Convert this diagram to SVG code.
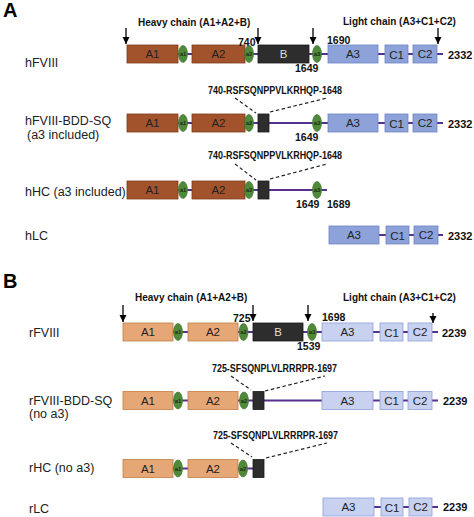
<svg xmlns="http://www.w3.org/2000/svg" width="474" height="517" viewBox="0 0 474 517">
<style>
text{font-family:"Liberation Sans",Arial,sans-serif}
.pl{font-size:20px;font-weight:bold;fill:#000}
.lab{font-size:12.5px;fill:#222}
.hd{font-size:10px;font-weight:bold;fill:#111}
.seq{font-size:10px;font-weight:bold;fill:#111}
.num{font-size:10.5px;font-weight:bold;fill:#111}
.end{font-size:11px;font-weight:bold;fill:#111}
.dt{font-size:11.5px;text-anchor:middle;fill:#222}
.dtw{font-size:11.5px;text-anchor:middle;fill:#ddd}
.et{font-size:6px;font-weight:bold;text-anchor:middle;fill:#1d2e12}
.br{fill:#A3532B;stroke:#7A3C1C;stroke-width:0.8}
.or{fill:#E6A776;stroke:#C27D47;stroke-width:0.8}
.ba{fill:#8EA2DA;stroke:#6E83C2;stroke-width:0.8}
.bb{fill:#C8D2F0;stroke:#8C9ED8;stroke-width:0.8}
.bk{fill:#2D2D2D;stroke:#1a1a1a;stroke-width:0.8}
.gr{fill:#4F8A3B;stroke:#3A6A2B;stroke-width:0.6}
.ln{stroke:#55308F;stroke-width:2;fill:none}
.ds{stroke:#222;stroke-width:1.2;stroke-dasharray:3.5,2.5;fill:none}
.ar{stroke:#000;stroke-width:1.3;fill:none;marker-end:url(#ah)}
</style>
<defs>
<marker id="ah" markerUnits="userSpaceOnUse" markerWidth="8" markerHeight="8" refX="7" refY="4" orient="auto">
<path d="M0,0.5 L7,4 L0,7.5 z" fill="#000"/>
</marker>
</defs>

<text class="pl" x="3" y="17">A</text>
<text class="pl" x="3" y="288">B</text>

<text class="hd" x="138" y="26">Heavy chain  (A1+A2+B)</text>
<text class="hd" x="343" y="25">Light chain  (A3+C1+C2)</text>
<text class="hd" x="135" y="301">Heavy chain  (A1+A2+B)</text>
<text class="hd" x="343" y="301">Light chain  (A3+C1+C2)</text>

<text class="lab" x="25" y="67">hFVIII</text>
<text class="lab" x="25" y="125">hFVIII-BDD-SQ</text>
<text class="lab" x="27" y="139">(a3 included)</text>
<text class="lab" x="25" y="196">hHC (a3 included)</text>
<text class="lab" x="25" y="240">hLC</text>
<text class="lab" x="29" y="337">rFVIII</text>
<text class="lab" x="29" y="405">rFVIII-BDD-SQ</text>
<text class="lab" x="29" y="418">(no a3)</text>
<text class="lab" x="29" y="472">rHC (no a3)</text>
<text class="lab" x="29" y="513">rLC</text>

<g id="connectors">
<line class="ln" x1="178" y1="54" x2="443" y2="54"/>
<line class="ln" x1="178" y1="123" x2="443" y2="123"/>
<line class="ln" x1="178" y1="190" x2="327" y2="190"/>
<line class="ln" x1="378" y1="235" x2="443" y2="235"/>
<line class="ln" x1="173" y1="332" x2="438" y2="332"/>
<line class="ln" x1="173" y1="400.5" x2="438" y2="400.5"/>
<line class="ln" x1="173" y1="468.5" x2="264" y2="468.5"/>
<line class="ln" x1="374" y1="507" x2="438" y2="507"/>
<line class="ar" x1="126" y1="28" x2="126" y2="44"/>
<line class="ar" x1="258" y1="28" x2="258" y2="44"/>
<line class="ar" x1="313" y1="28" x2="313" y2="44"/>
<line class="ar" x1="438" y1="28" x2="438" y2="44"/>
<line class="ar" x1="123" y1="305" x2="123" y2="322"/>
<line class="ar" x1="253" y1="305" x2="253" y2="321"/>
<line class="ar" x1="308" y1="305" x2="308" y2="321"/>
<line class="ar" x1="433" y1="313" x2="433" y2="323"/>
<line class="ds" x1="235" y1="98" x2="256" y2="113"/>
<line class="ds" x1="270" y1="112" x2="327" y2="98"/>
<line class="ds" x1="235" y1="164" x2="256" y2="180"/>
<line class="ds" x1="270" y1="179" x2="327" y2="164"/>
<line class="ds" x1="231" y1="376" x2="251" y2="390"/>
<line class="ds" x1="265" y1="391" x2="325" y2="376"/>
<line class="ds" x1="231" y1="443" x2="252" y2="457"/>
<line class="ds" x1="266" y1="458" x2="327" y2="443"/>
</g>

<!-- Row hFVIII -->
<g id="hfviii">
<g id="hfviii-A1"><rect class="br" x="127" y="45" width="51" height="18"/><text class="dt" x="152.5" y="58">A1</text></g>
<g id="hfviii-a1"><ellipse class="gr" cx="183" cy="54" rx="4.5" ry="8.5"/><text class="et" x="183" y="56">a1</text></g>
<g id="hfviii-A2"><rect class="br" x="192" y="45" width="53" height="18"/><text class="dt" x="218.5" y="58">A2</text></g>
<g id="hfviii-a2"><ellipse class="gr" cx="249" cy="54" rx="4.5" ry="8.5"/><text class="et" x="249" y="56">a2</text></g>
<g id="hfviii-B"><rect class="bk" x="258" y="45" width="51" height="18"/><text class="dtw" x="283.5" y="58">B</text></g>
<g id="hfviii-a3"><ellipse class="gr" cx="317" cy="54" rx="4.5" ry="8.5"/><text class="et" x="317" y="56">a3</text></g>
<g id="hfviii-A3"><rect class="ba" x="328" y="45" width="50" height="18"/><text class="dt" x="353" y="58">A3</text></g>
<g id="hfviii-C1"><rect class="ba" x="385" y="45" width="23" height="18"/><text class="dt" x="396.5" y="58.5">C1</text></g>
<g id="hfviii-C2"><rect class="ba" x="413" y="45" width="24" height="18"/><text class="dt" x="425" y="58">C2</text></g>
<text class="num" x="238" y="46">740</text>
<text class="num" x="327" y="44">1690</text>
<text class="num" x="295" y="72">1649</text>
<text class="end" x="448" y="58.5">2332</text>
</g>

<!-- Row hFVIII-BDD-SQ -->
<g id="hbdd">
<text class="seq" x="208" y="94" textLength="134" lengthAdjust="spacingAndGlyphs">740-RSFSQNPPVLKRHQP-1648</text>
<g id="hbdd-A1"><rect class="br" x="127" y="114" width="51" height="18"/><text class="dt" x="152.5" y="127">A1</text></g>
<g id="hbdd-a1"><ellipse class="gr" cx="183" cy="123" rx="4.5" ry="8.5"/><text class="et" x="183" y="125">a1</text></g>
<g id="hbdd-A2"><rect class="br" x="192" y="114" width="53" height="18"/><text class="dt" x="218.5" y="127">A2</text></g>
<g id="hbdd-a2"><ellipse class="gr" cx="249" cy="123" rx="4.5" ry="8.5"/><text class="et" x="249" y="125">a2</text></g>
<g id="hbdd-B"><rect class="bk" x="258" y="114" width="11" height="18"/></g>
<g id="hbdd-a3"><ellipse class="gr" cx="317" cy="123" rx="4.5" ry="8.5"/><text class="et" x="317" y="125">a3</text></g>
<g id="hbdd-A3"><rect class="ba" x="328" y="114" width="50" height="18"/><text class="dt" x="353" y="127">A3</text></g>
<g id="hbdd-C1"><rect class="ba" x="385" y="114" width="23" height="18"/><text class="dt" x="396.5" y="127.5">C1</text></g>
<g id="hbdd-C2"><rect class="ba" x="413" y="114" width="24" height="18"/><text class="dt" x="425" y="127">C2</text></g>
<text class="num" x="295" y="141">1649</text>
<text class="end" x="448" y="127.5">2332</text>
</g>

<!-- Row hHC -->
<g id="hhc">
<text class="seq" x="208" y="159" textLength="134" lengthAdjust="spacingAndGlyphs">740-RSFSQNPPVLKRHQP-1648</text>
<g id="hhc-A1"><rect class="br" x="127" y="181" width="51" height="18"/><text class="dt" x="152.5" y="194">A1</text></g>
<g id="hhc-a1"><ellipse class="gr" cx="183" cy="190" rx="4.5" ry="8.5"/><text class="et" x="183" y="192">a1</text></g>
<g id="hhc-A2"><rect class="br" x="192" y="181" width="53" height="18"/><text class="dt" x="218.5" y="194">A2</text></g>
<g id="hhc-a2"><ellipse class="gr" cx="249" cy="190" rx="4.5" ry="8.5"/><text class="et" x="249" y="192">a2</text></g>
<g id="hhc-B"><rect class="bk" x="258" y="181" width="11" height="18"/></g>
<g id="hhc-a3"><ellipse class="gr" cx="317" cy="190" rx="4.5" ry="8.5"/><text class="et" x="317" y="192">a3</text></g>
<text class="num" x="296" y="208">1649</text>
<text class="num" x="327" y="208">1689</text>
</g>

<!-- Row hLC -->
<g id="hlc">
<g id="hlc-A3"><rect class="ba" x="329" y="226" width="50" height="18"/><text class="dt" x="354" y="239">A3</text></g>
<g id="hlc-C1"><rect class="ba" x="386" y="226" width="23" height="18"/><text class="dt" x="397.5" y="239.5">C1</text></g>
<g id="hlc-C2"><rect class="ba" x="414" y="226" width="24" height="18"/><text class="dt" x="426" y="239">C2</text></g>
<text class="end" x="448" y="239.5">2332</text>
</g>

<!-- Row rFVIII -->
<g id="rfviii">
<g id="rfviii-A1"><rect class="or" x="123" y="323" width="50" height="18"/><text class="dt" x="148" y="336">A1</text></g>
<g id="rfviii-a1"><ellipse class="gr" cx="178" cy="332" rx="4.5" ry="8.5"/><text class="et" x="178" y="334">a1</text></g>
<g id="rfviii-A2"><rect class="or" x="188" y="323" width="50" height="18"/><text class="dt" x="213" y="336">A2</text></g>
<g id="rfviii-a2"><ellipse class="gr" cx="243.5" cy="332" rx="4.5" ry="8.5"/><text class="et" x="243.5" y="334">a2</text></g>
<g id="rfviii-B"><rect class="bk" x="253" y="323" width="50" height="18"/><text class="dtw" x="278" y="336">B</text></g>
<g id="rfviii-a3"><ellipse class="gr" cx="312" cy="332" rx="4.5" ry="8.5"/><text class="et" x="312" y="334">a3</text></g>
<g id="rfviii-A3"><rect class="bb" x="322" y="323" width="51" height="18"/><text class="dt" x="347.5" y="336">A3</text></g>
<g id="rfviii-C1"><rect class="bb" x="380" y="323" width="23" height="18"/><text class="dt" x="391.5" y="336.5">C1</text></g>
<g id="rfviii-C2"><rect class="bb" x="408" y="323" width="24" height="18"/><text class="dt" x="420" y="336">C2</text></g>
<text class="num" x="233" y="322">725</text>
<text class="num" x="322" y="321">1698</text>
<text class="num" x="297" y="350">1539</text>
<text class="end" x="442" y="337">2239</text>
</g>

<!-- Row rFVIII-BDD-SQ -->
<g id="rbdd">
<text class="seq" x="212" y="372" textLength="125" lengthAdjust="spacingAndGlyphs">725-SFSQNPLVLRRRPR-1697</text>
<g id="rbdd-A1"><rect class="or" x="123" y="391.5" width="50" height="18"/><text class="dt" x="148" y="404.5">A1</text></g>
<g id="rbdd-a1"><ellipse class="gr" cx="178" cy="400.5" rx="4.5" ry="8.5"/><text class="et" x="178" y="402.5">a1</text></g>
<g id="rbdd-A2"><rect class="or" x="188" y="391.5" width="50" height="18"/><text class="dt" x="213" y="404.5">A2</text></g>
<g id="rbdd-a2"><ellipse class="gr" cx="244" cy="400.5" rx="4.5" ry="8.5"/><text class="et" x="244" y="402.5">a2</text></g>
<g id="rbdd-B"><rect class="bk" x="253" y="391.5" width="11" height="18"/></g>
<g id="rbdd-A3"><rect class="bb" x="322" y="391.5" width="51" height="18"/><text class="dt" x="347.5" y="404.5">A3</text></g>
<g id="rbdd-C1"><rect class="bb" x="380" y="391.5" width="23" height="18"/><text class="dt" x="391.5" y="405">C1</text></g>
<g id="rbdd-C2"><rect class="bb" x="408" y="391.5" width="24" height="18"/><text class="dt" x="420" y="404.5">C2</text></g>
<text class="end" x="443" y="405">2239</text>
</g>

<!-- Row rHC -->
<g id="rhc">
<text class="seq" x="213" y="439" textLength="125" lengthAdjust="spacingAndGlyphs">725-SFSQNPLVLRRRPR-1697</text>
<g id="rhc-A1"><rect class="or" x="123" y="459.5" width="50" height="18"/><text class="dt" x="148" y="472.5">A1</text></g>
<g id="rhc-a1"><ellipse class="gr" cx="178" cy="468.5" rx="4.5" ry="8.5"/><text class="et" x="178" y="470.5">a1</text></g>
<g id="rhc-A2"><rect class="or" x="188" y="459.5" width="50" height="18"/><text class="dt" x="213" y="472.5">A2</text></g>
<g id="rhc-a2"><ellipse class="gr" cx="243" cy="468.5" rx="4.5" ry="8.5"/><text class="et" x="243" y="470.5">a2</text></g>
<g id="rhc-B"><rect class="bk" x="253" y="459.5" width="11" height="18"/></g>
</g>

<!-- Row rLC -->
<g id="rlc">
<g id="rlc-A3"><rect class="bb" x="323" y="498" width="51" height="18"/><text class="dt" x="348.5" y="511">A3</text></g>
<g id="rlc-C1"><rect class="bb" x="381" y="498" width="22" height="18"/><text class="dt" x="392" y="511.5">C1</text></g>
<g id="rlc-C2"><rect class="bb" x="409" y="498" width="23" height="18"/><text class="dt" x="420.5" y="511">C2</text></g>
<text class="end" x="443" y="511">2239</text>
</g>
</svg>
